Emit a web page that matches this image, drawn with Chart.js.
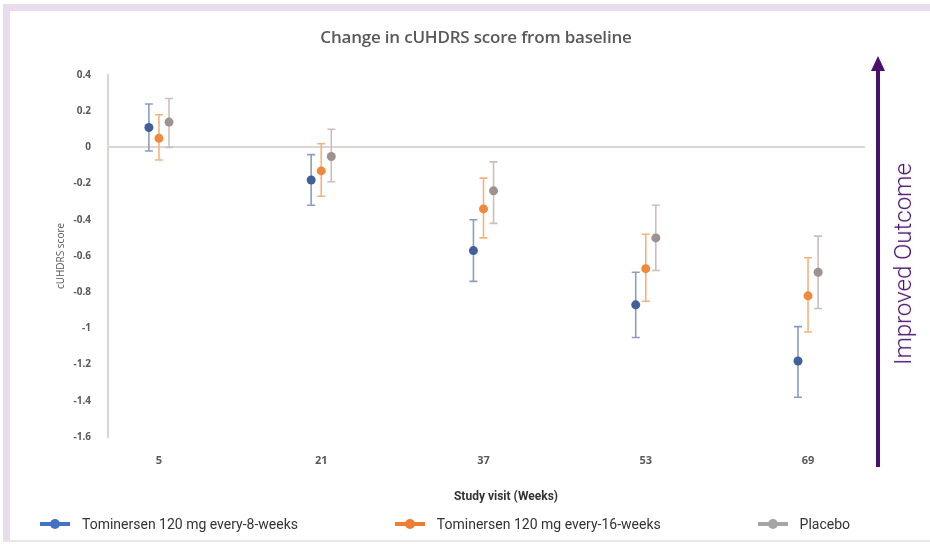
<!DOCTYPE html>
<html>
<head>
<meta charset="utf-8">
<script src="https://cdn.jsdelivr.net/npm/chart.js@4/dist/chart.umd.min.js"></script>
<style>
    html, body { margin: 0; padding: 0; background: #fff; }
    #wrap { position: relative; width: 930px; height: 544px; overflow: hidden; font-family: Roboto, sans-serif; }
    #frameTop { position: absolute; left: 3px; top: 4px; width: 927px; height: 7px; background: #e9dcec; }
    #frameLeft { position: absolute; left: 3px; top: 4px; width: 7px; height: 537px; background: #e9dcec; }
    #frameBottom { position: absolute; left: 3px; top: 540px; width: 927px; height: 2px; background: #e8e6e6; }
    #chart { position: absolute; left: 0; top: 0; }
    #title { position: absolute; left: 476px; top: 25px; transform: translateX(-50%); white-space: nowrap;
             font-family: "Open Sans", sans-serif; font-size: 17px; font-weight: 600; color: #595959; letter-spacing: -0.2px; }
    #xTitle { position: absolute; left: 506px; top: 489px; transform: translateX(-50%); white-space: nowrap;
              font-size: 12px; font-weight: bold; color: #333; }
    #improved { position: absolute; left: 903px; top: 264px; transform: translate(-50%, -50%) rotate(-90deg);
                white-space: nowrap; font-size: 24px; font-weight: 300; color: #4b0f6e; }
    #legend { position: absolute; left: 40px; width: 810px; top: 515px; display: flex; justify-content: space-between; }
    .item { display: flex; align-items: center; font-size: 14px; color: #333; }
    .sym { position: relative; width: 30px; height: 18px; margin-right: 12px; }
    .sym .ln { position: absolute; left: 0; top: 7px; width: 30px; height: 4px; }
    .sym .dot { position: absolute; left: 10px; top: 4px; width: 10px; height: 10px; border-radius: 50%; }
</style>
</head>
<body>
<div id="wrap">
    <div id="frameTop"></div>
    <div id="frameLeft"></div>
    <div id="frameBottom"></div>
    <canvas id="chart" width="930" height="544"></canvas>
    <div id="title">Change in cUHDRS score from baseline</div>
    <div id="xTitle">Study visit (Weeks)</div>
    <div id="improved">Improved Outcome</div>
    <div id="legend"></div>
</div>
<script>
// Semanas de visita (categorías del eje X)
const weeks = ['5', '21', '37', '53', '69'];

// Nombres de las series
const seriesNames = ['Tominersen 120 mg every-8-weeks', 'Tominersen 120 mg every-16-weeks', 'Placebo'];

// Media del cambio en cUHDRS
const q8wMean = [0.11, -0.18, -0.57, -0.87, -1.18];
const q16wMean = [0.05, -0.13, -0.34, -0.67, -0.82];
const placeboMean = [0.14, -0.05, -0.24, -0.50, -0.69];

// Límites inferiores de las barras de error
const q8wLow = [-0.02, -0.32, -0.74, -1.05, -1.38];
const q16wLow = [-0.07, -0.27, -0.50, -0.85, -1.02];
const placeboLow = [0.00, -0.19, -0.42, -0.68, -0.89];

// Límites superiores de las barras de error
const q8wHigh = [0.24, -0.04, -0.40, -0.69, -0.99];
const q16wHigh = [0.18, 0.02, -0.17, -0.48, -0.61];
const placeboHigh = [0.27, 0.10, -0.08, -0.32, -0.49];

// Colores: punto, barra de error, leyenda
const dotColors = ['#41609a', '#ee8a3c', '#9c9390'];
const barColors = ['#8d9cc0', '#f5b27f', '#c9c0bd'];
const legendColors = ['#4472c4', '#ed7d31', '#a5a5a5'];

// Desplazamiento horizontal de cada serie dentro del grupo
const dodge = [-0.062, 0, 0.062];

const means = [q8wMean, q16wMean, placeboMean];
const lows = [q8wLow, q16wLow, placeboLow];
const highs = [q8wHigh, q16wHigh, placeboHigh];

// Plugin para dibujar barras de error
const errorBarsPlugin = {
    id: 'errorBars',
    beforeDatasetsDraw(chart) {
        const ctx = chart.ctx;
        const x = chart.scales.x;
        const y = chart.scales.y;
        chart.data.datasets.forEach((ds, i) => {
            ds.data.forEach((p, j) => {
                const px = x.getPixelForValue(p.x);
                const top = y.getPixelForValue(highs[i][j]);
                const bottom = y.getPixelForValue(lows[i][j]);
                ctx.save();
                ctx.strokeStyle = barColors[i];
                ctx.lineWidth = 1.6;
                ctx.beginPath();
                ctx.moveTo(px, top);
                ctx.lineTo(px, bottom);
                ctx.moveTo(px - 4, top);
                ctx.lineTo(px + 4, top);
                ctx.moveTo(px - 4, bottom);
                ctx.lineTo(px + 4, bottom);
                ctx.stroke();
                ctx.restore();
            });
        });
    }
};

// Plugin para la flecha de "Improved Outcome"
const arrowPlugin = {
    id: 'arrow',
    afterDraw(chart) {
        const ctx = chart.ctx;
        ctx.save();
        ctx.fillStyle = '#4b0f6e';
        ctx.fillRect(876, 70, 4, 397);
        ctx.beginPath();
        ctx.moveTo(878, 56);
        ctx.lineTo(885, 71);
        ctx.lineTo(871, 71);
        ctx.closePath();
        ctx.fill();
        ctx.restore();
    }
};

const datasets = means.map((m, i) => ({
    label: seriesNames[i],
    data: m.map((v, j) => ({ x: j + dodge[i], y: v })),
    showLine: false,
    pointRadius: 4.5,
    pointHoverRadius: 4.5,
    pointBackgroundColor: dotColors[i],
    pointBorderColor: dotColors[i],
    pointBorderWidth: 0
}));

new Chart(document.getElementById('chart'), {
    type: 'scatter',
    data: { datasets: datasets },
    options: {
        responsive: false,
        animation: false,
        events: [],
        layout: { padding: { left: 0, top: 75, right: 65, bottom: 77 } },
        plugins: {
            legend: { display: false },
            tooltip: { enabled: false }
        },
        scales: {
            x: {
                type: 'linear',
                min: -0.314,
                max: 4.351,
                afterBuildTicks: scale => {
                    scale.ticks = weeks.map((w, i) => ({ value: i }));
                },
                afterFit: scale => { scale.height = 30; },
                border: { display: false },
                grid: { display: false, drawTicks: false },
                ticks: {
                    padding: 17,
                    color: '#595959',
                    font: { family: 'Open Sans', size: 11, weight: 'bold' },
                    callback: value => weeks[value]
                }
            },
            y: {
                min: -1.6,
                max: 0.4,
                afterFit: scale => { scale.width = 108; },
                border: { display: true, color: '#dcd5d2', width: 2 },
                grid: {
                    drawTicks: false,
                    lineWidth: 2,
                    color: ctx => ctx.tick && ctx.tick.value === 0 ? '#dcd5d2' : 'rgba(0,0,0,0)'
                },
                ticks: {
                    stepSize: 0.2,
                    padding: 17,
                    color: '#595959',
                    font: { family: 'Open Sans', size: 10, weight: 'bold' },
                    callback: value => String(Math.round(value * 10) / 10)
                },
                title: {
                    display: true,
                    text: 'cUHDRS score',
                    color: '#595959',
                    font: { family: 'Open Sans', size: 10 },
                    padding: { top: 55, bottom: 0 }
                }
            }
        }
    },
    plugins: [errorBarsPlugin, arrowPlugin]
});

// Leyenda en HTML
const legendEl = document.getElementById('legend');
seriesNames.forEach((name, i) => {
    const item = document.createElement('div');
    item.className = 'item';
    item.innerHTML = '<span class="sym"><span class="ln" style="background:' + legendColors[i] + '"></span>' +
        '<span class="dot" style="background:' + legendColors[i] + '"></span></span>' + name;
    legendEl.appendChild(item);
});
</script>
</body>
</html>
